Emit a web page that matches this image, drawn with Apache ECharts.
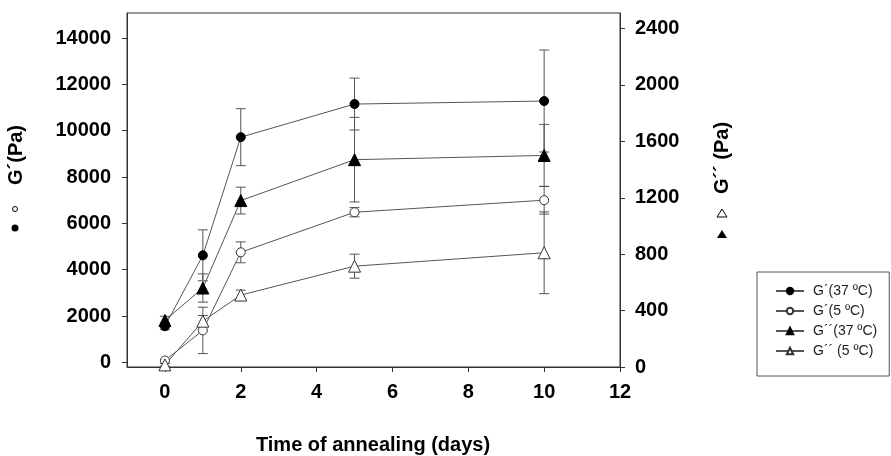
<!DOCTYPE html>
<html>
<head>
<meta charset="UTF-8">
<title>G' and G'' vs time of annealing</title>
<script src="https://cdn.jsdelivr.net/npm/echarts@6/dist/echarts.min.js"></script>
<style>
  html, body { margin: 0; padding: 0; background: #fff; }
  #main { width: 891px; height: 456px; }
</style>
</head>
<body>
<div id="main"></div>
<script>
// days of annealing
var days = [0, 1, 2, 5, 10];

// G' (left axis, Pa)
var gp37 = [1560, 4620, 9720, 11150, 11280];
var gp37Err = [150, 1100, 1230, 1120, 2200];
var gp5 = [80, 1380, 4750, 6480, 7000];
var gp5Err = [40, 1000, 450, 200, 600];

// G'' (right axis, Pa)
var gpp37 = [330, 560, 1180, 1470, 1500];
var gpp37Err = [30, 100, 95, 300, 220];
var gpp5 = [15, 325, 510, 715, 810];
var gpp5Err = [10, 40, 35, 85, 290];

var names = ['G´(37 ºC)', 'G´(5 ºC)', 'G´´(37 ºC)', 'G´´ (5 ºC)'];

var lineCol = '#555';
var font = '"Liberation Sans", Arial, sans-serif';

function pairs(vals) {
    return days.map(function (d, i) { return [d, vals[i]]; });
}
function errData(vals, errs) {
    return days.map(function (d, i) { return [d, vals[i] - errs[i], vals[i] + errs[i]]; });
}

function errRender(params, api) {
    var x = api.value(0);
    var top = api.coord([x, api.value(2)]);
    var bot = api.coord([x, api.value(1)]);
    var w = 5;
    var st = { stroke: lineCol, lineWidth: 1 };
    return {
        type: 'group',
        children: [
            { type: 'line', shape: { x1: top[0], y1: top[1], x2: bot[0], y2: bot[1] }, style: st },
            { type: 'line', shape: { x1: top[0] - w, y1: top[1], x2: top[0] + w, y2: top[1] }, style: st },
            { type: 'line', shape: { x1: bot[0] - w, y1: bot[1], x2: bot[0] + w, y2: bot[1] }, style: st }
        ]
    };
}

function errSeries(vals, errs, axisIdx) {
    return {
        type: 'custom',
        yAxisIndex: axisIdx,
        renderItem: errRender,
        encode: { x: 0, y: [1, 2] },
        data: errData(vals, errs),
        z: 1,
        silent: true
    };
}

function lineSeries(name, vals, axisIdx, symbol, size, filled) {
    return {
        name: name,
        type: 'line',
        yAxisIndex: axisIdx,
        data: pairs(vals),
        symbol: symbol,
        symbolSize: size,
        showAllSymbol: true,
        lineStyle: { color: lineCol, width: 1 },
        itemStyle: filled
            ? { color: '#000', borderColor: '#000', borderWidth: 1 }
            : { color: '#fff', borderColor: '#333', borderWidth: 1 },
        z: 3
    };
}

function plain(v) { return String(v); }

var tickLabel = { color: '#000', fontSize: 20, fontWeight: 'bold', fontFamily: font, formatter: plain };
var axLine = { show: true, onZero: false, lineStyle: { color: '#333', width: 1 } };
var axTick = { show: true, length: 5, lineStyle: { color: '#333' } };

var chart = echarts.init(document.getElementById('main'));
chart.setOption({
    animation: false,
    backgroundColor: '#fff',
    grid: { left: 127, right: 271, top: 13, bottom: 89, show: true, borderColor: '#333', borderWidth: 1 },
    xAxis: {
        type: 'value',
        min: -1, max: 12, splitNumber: 6,
        axisLine: axLine, axisTick: axTick,
        axisLabel: Object.assign({ margin: 15, showMinLabel: false }, tickLabel),
        splitLine: { show: false }
    },
    yAxis: [{
        type: 'value',
        min: -200, max: 15080, splitNumber: 8,
        axisLine: axLine, axisTick: axTick,
        axisLabel: Object.assign({ margin: 16, showMinLabel: false, showMaxLabel: false }, tickLabel),
        splitLine: { show: false }
    }, {
        type: 'value',
        position: 'right',
        min: 0, max: 2510, interval: 400,
        axisLine: axLine, axisTick: axTick,
        axisLabel: Object.assign({ margin: 15, showMaxLabel: false }, tickLabel),
        splitLine: { show: false }
    }],
    legend: {
        data: names,
        orient: 'vertical',
        left: 757, top: 272,
        padding: [12, 12, 18, 18],
        itemWidth: 28, itemHeight: 8, itemGap: 6,
        borderColor: '#555', borderWidth: 1,
        backgroundColor: '#fff',
        textStyle: { color: '#222', fontSize: 14, fontFamily: font, padding: [0, 0, 0, 4] }
    },
    graphic: [
        { type: 'text', x: 373, y: 445, style: { text: 'Time of annealing (days)', font: 'bold 20px ' + font, fill: '#000', align: 'center', verticalAlign: 'middle' } },
        { type: 'text', x: 16, y: 155, rotation: Math.PI / 2, style: { text: 'G´(Pa)', font: 'bold 20px ' + font, fill: '#000', align: 'center', verticalAlign: 'middle' } },
        { type: 'circle', shape: { cx: 15, cy: 209, r: 2.5 }, style: { fill: '#fff', stroke: '#000', lineWidth: 1 } },
        { type: 'circle', shape: { cx: 15, cy: 228, r: 3.5 }, style: { fill: '#000' } },
        { type: 'text', x: 722, y: 158, rotation: Math.PI / 2, style: { text: 'G´´ (Pa)', font: 'bold 20px ' + font, fill: '#000', align: 'center', verticalAlign: 'middle' } },
        { type: 'polygon', shape: { points: [[717, 217], [727, 217], [722, 209]] }, style: { fill: '#fff', stroke: '#000', lineWidth: 1 } },
        { type: 'polygon', shape: { points: [[717, 238], [727, 238], [722, 230]] }, style: { fill: '#000' } }
    ],
    series: [
        errSeries(gp37, gp37Err, 0),
        errSeries(gp5, gp5Err, 0),
        errSeries(gpp37, gpp37Err, 1),
        errSeries(gpp5, gpp5Err, 1),
        lineSeries(names[0], gp37, 0, 'circle', 9, true),
        lineSeries(names[1], gp5, 0, 'circle', 9, false),
        lineSeries(names[2], gpp37, 1, 'triangle', 12, true),
        lineSeries(names[3], gpp5, 1, 'triangle', 12, false)
    ]
});
</script>
</body>
</html>
